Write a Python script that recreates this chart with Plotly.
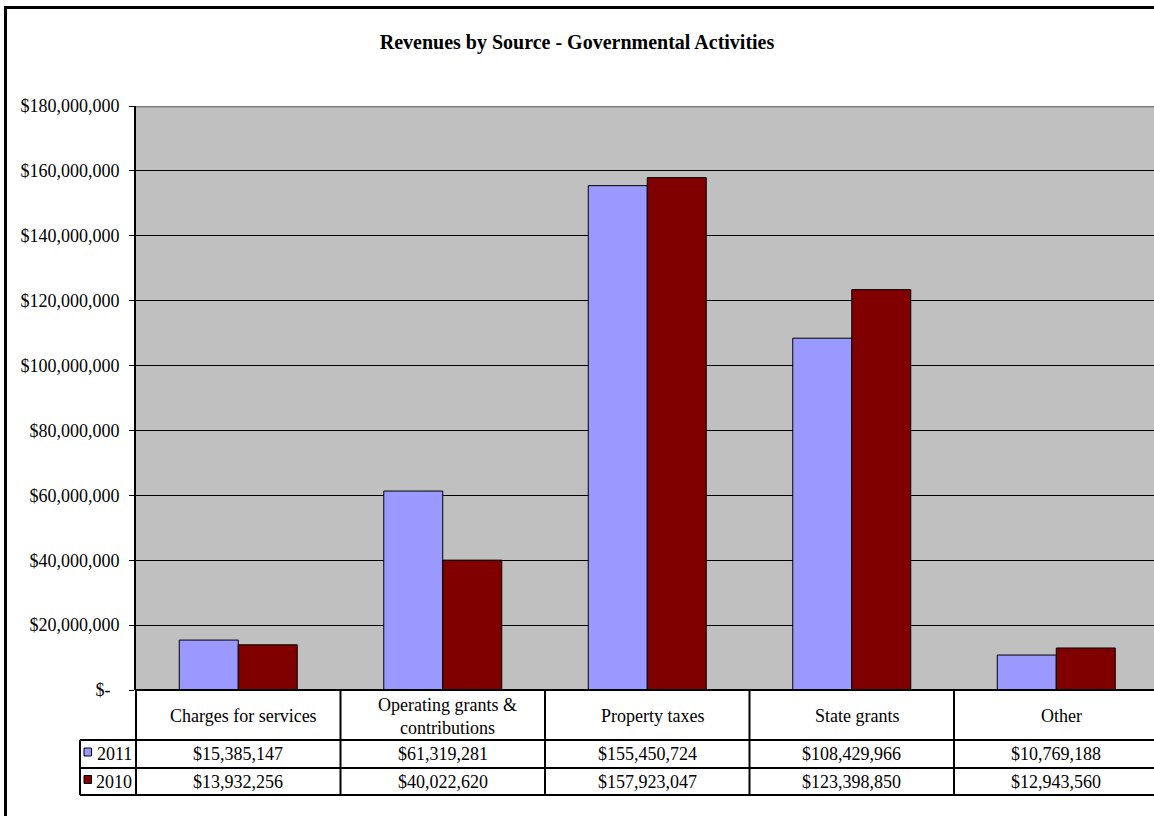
import plotly.graph_objects as go

categories = ["Charges for services", "Operating grants &<br>contributions", "Property taxes", "State grants", "Other"]
years = ["2011", "2010"]
values_2011 = [15385147, 61319281, 155450724, 108429966, 10769188]
values_2010 = [13932256, 40022620, 157923047, 123398850, 12943560]
colors = ["#9999FF", "#800000"]
tick_vals = [0, 20e6, 40e6, 60e6, 80e6, 100e6, 120e6, 140e6, 160e6, 180e6]
tick_text = ["$-\u00a0\u00a0", "$20,000,000", "$40,000,000", "$60,000,000", "$80,000,000",
             "$100,000,000", "$120,000,000", "$140,000,000", "$160,000,000", "$180,000,000"]

W, H = 1154, 816
L, T, B = 136, 106, 126
PW = W - L
PH = H - T - B
FONT = "Liberation Serif"
FS = 18

def px_x(px):
    return (px - L) / PW

def px_y(py):
    return (H - B - py) / PH

xidx = list(range(len(categories)))
series = [values_2011, values_2010]

fig = go.Figure()
for name, vals, col in zip(years, series, colors):
    fig.add_trace(go.Bar(x=xidx, y=vals, name=name, marker=dict(color=col, line=dict(color="black", width=1))))

right_edge = -0.5 + PW / 204.5

fig.update_layout(
    width=W, height=H,
    margin=dict(l=L, r=0, t=T, b=B),
    paper_bgcolor="white", plot_bgcolor="#C0C0C0",
    barmode="group", bargap=0.423, bargroupgap=0,
    showlegend=False,
    font=dict(family=FONT, size=FS, color="black"),
    title=dict(text="<b>Revenues by Source - Governmental Activities</b>", x=0.5, xanchor="center",
               y=1 - 42 / H, yanchor="middle", font=dict(family=FONT, size=20, color="black")),
    xaxis=dict(range=[-0.5, right_edge], showticklabels=False, ticks="", showgrid=False, zeroline=False,
               showline=False, fixedrange=True),
    yaxis=dict(range=[0, 180e6], tickvals=tick_vals, ticktext=tick_text, showgrid=True, gridcolor="black",
               gridwidth=1, zeroline=False, showline=True, linecolor="black", linewidth=2, ticks="outside",
               ticklen=5, tickcolor="black", tickwidth=1, ticklabelstandoff=6,
               tickfont=dict(family=FONT, size=FS, color="black")),
)

shapes = []
# top plot-area border (gray)
shapes.append(dict(type="line", xref="paper", yref="y", x0=0, x1=1, y0=180e6, y1=180e6,
                   line=dict(color="#808080", width=3)))
# outer chart border
shapes.append(dict(type="line", xref="paper", yref="paper", x0=px_x(5.5), x1=px_x(5.5), y0=px_y(6), y1=px_y(830),
                   line=dict(color="black", width=3)))
shapes.append(dict(type="line", xref="paper", yref="paper", x0=px_x(4), x1=px_x(1170), y0=px_y(7.5), y1=px_y(7.5),
                   line=dict(color="black", width=3)))

# data table
row_tops = [690, 740, 768, 795]
tbl_line = dict(color="black", width=2)
shapes.append(dict(type="line", xref="paper", yref="paper", x0=0, x1=1.01, y0=px_y(690), y1=px_y(690), line=tbl_line))
for py in row_tops[1:]:
    shapes.append(dict(type="line", xref="paper", yref="paper", x0=px_x(80), x1=1.01, y0=px_y(py), y1=px_y(py),
                       line=tbl_line))
shapes.append(dict(type="line", xref="paper", yref="paper", x0=px_x(80), x1=px_x(80), y0=px_y(740), y1=px_y(795),
                   line=tbl_line))
shapes.append(dict(type="line", xref="paper", yref="paper", x0=0, x1=0, y0=px_y(690), y1=px_y(795), line=tbl_line))
for i in xidx[:-1]:
    shapes.append(dict(type="line", xref="x", yref="paper", x0=i + 0.5, x1=i + 0.5, y0=px_y(690), y1=px_y(795),
                       line=tbl_line))

annotations = []
for i, cat in enumerate(categories):
    annotations.append(dict(x=i, y=px_y(716), xref="x", yref="paper", text=cat, showarrow=False, xshift=5,
                            xanchor="center", yanchor="middle", font=dict(family=FONT, size=FS)))
for r, (name, vals, col) in enumerate(zip(years, series, colors)):
    cy = (row_tops[r + 1] + row_tops[r + 2]) / 2
    for i, v in enumerate(vals):
        annotations.append(dict(x=i, y=px_y(cy), xref="x", yref="paper", text=f"${v:,.0f}", showarrow=False,
                                xanchor="center", yanchor="middle", font=dict(family=FONT, size=FS)))
    annotations.append(dict(x=px_x(134), y=px_y(cy), xref="paper", yref="paper", text=name, showarrow=False,
                            xanchor="right", yanchor="middle", font=dict(family=FONT, size=FS)))
    shapes.append(dict(type="rect", xref="paper", yref="paper", x0=px_x(84), x1=px_x(91.5),
                       y0=px_y(cy - 6), y1=px_y(cy + 2), fillcolor=col, line=dict(color="black", width=1)))

fig.update_layout(shapes=shapes, annotations=annotations)
fig.write_html("out.html")
